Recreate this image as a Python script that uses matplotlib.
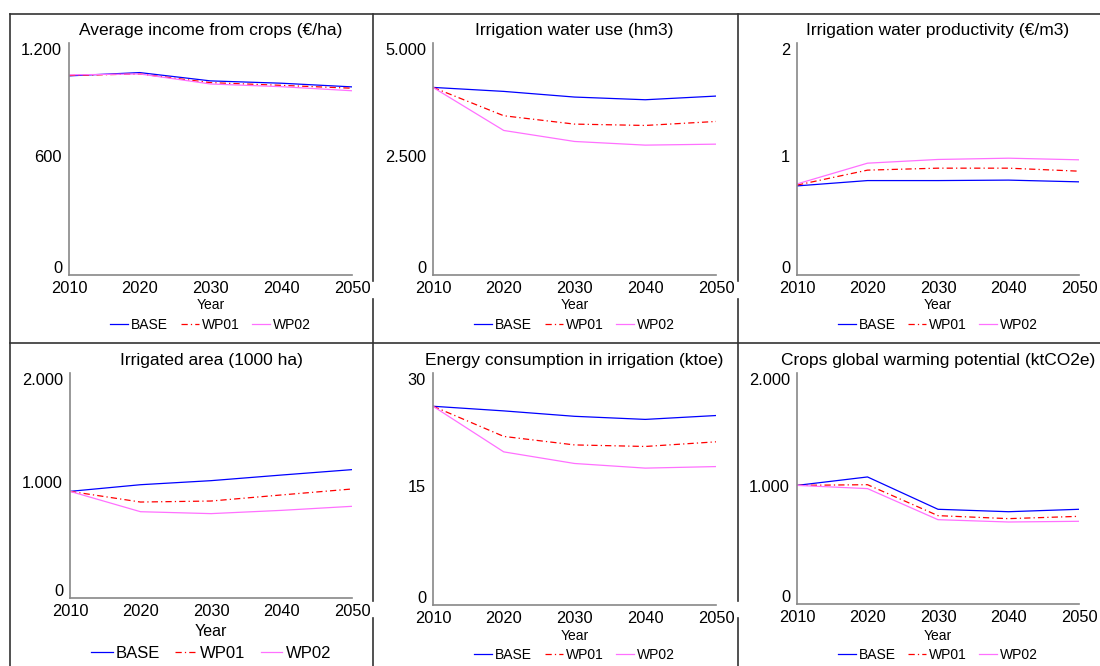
import numpy as np
import matplotlib
matplotlib.use("Agg")
import matplotlib.pyplot as plt
from matplotlib.lines import Line2D
from matplotlib.transforms import ScaledTranslation

plt.rcParams['font.family'] = ['Liberation Sans', 'DejaVu Sans']

years = [2010, 2020, 2030, 2040, 2050]
scenarios = ['BASE', 'WP01', 'WP02']

titles = ['Average income from crops (€/ha)',
          'Irrigation water use (hm3)',
          'Irrigation water productivity (€/m3)',
          'Irrigated area (1000 ha)',
          'Energy consumption in irrigation (ktoe)',
          'Crops global warming potential (ktCO2e)']

income_base = [1030, 1047, 1004, 992, 973]
income_wp01 = [1032, 1040, 995, 981, 966]
income_wp02 = [1035, 1040, 988, 974, 953]

water_base = [4043, 3957, 3835, 3777, 3856]
water_wp01 = [4043, 3432, 3252, 3223, 3309]
water_wp02 = [4043, 3115, 2878, 2799, 2820]

prod_base = [0.768, 0.814, 0.814, 0.818, 0.803]
prod_wp01 = [0.775, 0.904, 0.921, 0.921, 0.895]
prod_wp02 = [0.785, 0.964, 0.996, 1.007, 0.993]

area_base = [948, 1007, 1043, 1093, 1141]
area_wp01 = [948, 853, 862, 916, 969]
area_wp02 = [948, 767, 750, 779, 815]

energy_base = [25.7, 25.1, 24.4, 24.0, 24.5]
energy_wp01 = [25.7, 21.8, 20.7, 20.5, 21.1]
energy_wp02 = [25.7, 19.8, 18.3, 17.7, 17.9]

gwp_base = [1027, 1100, 820, 799, 820]
gwp_wp01 = [1027, 1033, 765, 739, 759]
gwp_wp02 = [1027, 999, 730, 710, 716]

series = [
    (income_base, income_wp01, income_wp02),
    (water_base, water_wp01, water_wp02),
    (prod_base, prod_wp01, prod_wp02),
    (area_base, area_wp01, area_wp02),
    (energy_base, energy_wp01, energy_wp02),
    (gwp_base, gwp_wp01, gwp_wp02),
]
yticks = [[0, 600, 1200], [0, 2500, 5000], [0, 1, 2],
          [0, 1000, 2000], [0, 15, 30], [0, 1000, 2000]]
ytick_labels = [['0', '600', '1.200'], ['0', '2.500', '5.000'], ['0', '1', '2'],
                ['0', '1.000', '2.000'], ['0', '15', '30'], ['0', '1.000', '2.000']]

colors = ['#0000ff', '#ff0000', '#ff70ff']
W, H = 1100, 666

# pixel boxes: left, right, top, bottom
boxes = [(69, 352, 43, 275), (433, 716, 43, 275), (797, 1079, 43, 275),
         (70, 352, 373, 598), (433, 716, 373, 605), (797, 1079, 373, 604)]
year_y = [305, 305, 305, 631, 636, 636]
leg_y = [325, 325, 325, 653, 655, 655]
small = [10, 10, 10, 12, 10, 10]
yearfs = [10, 10, 10, 11.5, 10, 10]

fig = plt.figure(figsize=(11, 6.66), dpi=100)

for i in range(6):
    l, r, t, b = boxes[i]
    ax = fig.add_axes([l / W, 1 - b / H, (r - l) / W, (b - t) / H])
    base, wp01, wp02 = series[i]
    ax.plot(years, base, color=colors[0], lw=0.9, label=scenarios[0])
    ax.plot(years, wp01, color=colors[1], lw=0.9, dashes=[5, 2.5, 1, 2.5], label=scenarios[1])
    ax.plot(years, wp02, color=colors[2], lw=0.9, label=scenarios[2])
    ax.set_xlim(2010, 2050)
    ax.set_ylim(yticks[i][0], yticks[i][-1])
    ax.set_xticks(years)
    ax.set_xticklabels([str(y) for y in years], fontsize=11.8)
    ax.set_yticks(yticks[i])
    ax.set_yticklabels(ytick_labels[i], fontsize=11.8)
    ax.tick_params(length=0, pad=5)
    ax.tick_params(axis='x', pad=4)
    for s in ['top', 'right']:
        ax.spines[s].set_visible(False)
    for s in ['left', 'bottom']:
        ax.spines[s].set_color('#888888')
        ax.spines[s].set_linewidth(1.2)
    # nudge y labels inward like the original
    shifts = [8, 3, -6]
    for lab, dy in zip(ax.get_yticklabels(), shifts):
        lab.set_transform(lab.get_transform() + ScaledTranslation(0, dy / 100, fig.dpi_scale_trans))
    ax.set_title(titles[i], fontsize=12.5, pad=6)
    cx = (l + r) / 2 / W
    fig.text(cx, 1 - year_y[i] / H, 'Year', ha='center', va='center', fontsize=yearfs[i])
    ax.legend(loc='center', bbox_to_anchor=(cx, 1 - leg_y[i] / H), bbox_transform=fig.transFigure,
              ncol=3, frameon=False, fontsize=small[i], handlelength=1.3,
              handletextpad=0.2, columnspacing=0.9, borderpad=0)

# panel frame lines
frame = dict(color='#333333', lw=1.2)
def seg(x0, y0, x1, y1):
    fig.add_artist(Line2D([x0 / W, x1 / W], [1 - y0 / H, 1 - y1 / H], **frame))

seg(10, 14, W, 14)
seg(10, 343, W, 343)
seg(10, 14, 10, 666)
for x in [373, 738]:
    seg(x, 14, x, 281)
    seg(x, 299, x, 601)
    seg(x, 618, x, 666)

fig.savefig('out.png', dpi=100)
